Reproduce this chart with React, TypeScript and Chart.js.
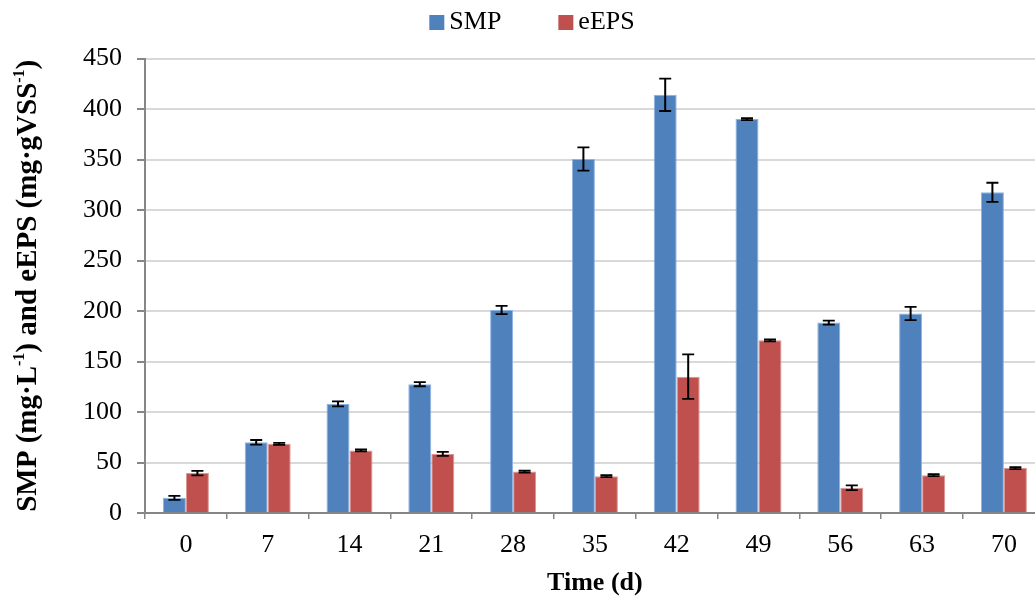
import React, { useEffect, useRef } from "react";
import { Chart, registerables } from "chart.js";

Chart.register(...registerables);

const categories = ["0", "7", "14", "21", "28", "35", "42", "49", "56", "63", "70"];
const smpValues = [15, 70, 108, 127.5, 201, 350.5, 414, 390, 188.5, 197.5, 317.5];
const smpErrors = [2, 2.3, 2.5, 2, 4, 11.5, 16, 1, 2, 6.5, 9.5];
const eepsValues = [39.5, 68.5, 62, 58.5, 41, 36.5, 135, 171, 25, 37.5, 44.5];
const eepsErrors = [2.3, 1, 1, 2, 1, 1, 22, 1, 2.3, 1, 1];
const seriesNames = ["SMP", "eEPS"];
const yMin = 0;
const yMax = 450;
const yStep = 50;
const xTitle = "Time (d)";
// y title as [text, isSuperscript] segments
const yTitleParts: [string, boolean][] = [
  ["SMP (mg·L", false],
  ["-1", true],
  [") and eEPS (mg·gVSS", false],
  ["-1", true],
  [")", false],
];

const FONT = "'Liberation Serif', 'Times New Roman', 'DejaVu Serif', serif";

const errorBarPlugin = {
  id: "errorBars",
  afterDatasetsDraw(chart: any) {
    const ctx = chart.ctx;
    const yScale = chart.scales.y;
    const errs = [smpErrors, eepsErrors];
    ctx.save();
    ctx.strokeStyle = "#000";
    chart.data.datasets.forEach((ds: any, di: number) => {
      const meta = chart.getDatasetMeta(di);
      meta.data.forEach((bar: any, i: number) => {
        const v = ds.data[i];
        const e = errs[di][i];
        const yt = yScale.getPixelForValue(v + e);
        const yb = yScale.getPixelForValue(v - e);
        const x = bar.x;
        ctx.lineWidth = 2;
        ctx.beginPath();
        ctx.moveTo(x, yt);
        ctx.lineTo(x, yb);
        ctx.stroke();
        ctx.lineWidth = 1.8;
        ctx.beginPath();
        ctx.moveTo(x - 6, yt);
        ctx.lineTo(x + 6, yt);
        ctx.moveTo(x - 6, yb);
        ctx.lineTo(x + 6, yb);
        ctx.stroke();
      });
    });
    ctx.restore();
  },
};

const legendPlugin = {
  id: "customLegend",
  afterDraw(chart: any) {
    const ctx = chart.ctx;
    ctx.save();
    ctx.font = `26px ${FONT}`;
    const box = 15;
    const gap = 5;
    const spacing = 57;
    const items = chart.data.datasets.map((d: any) => ({ label: d.label, color: d.backgroundColor }));
    const widths = items.map((it: any) => box + gap + ctx.measureText(it.label).width);
    const total = widths.reduce((a: number, b: number) => a + b, 0) + spacing * (items.length - 1);
    let x = 532 - total / 2;
    const y = 15;
    items.forEach((it: any, i: number) => {
      ctx.fillStyle = it.color;
      ctx.fillRect(x, y, box, box);
      ctx.fillStyle = "#000";
      ctx.textBaseline = "middle";
      ctx.textAlign = "left";
      ctx.fillText(it.label, x + box + gap, y + box / 2 - 0.5);
      x += widths[i] + spacing;
    });
    ctx.restore();
  },
};

const yTitlePlugin = {
  id: "yTitle",
  afterDraw(chart: any) {
    const ctx = chart.ctx;
    const area = chart.chartArea;
    const mainFont = `bold 29px ${FONT}`;
    const supFont = `bold 16px ${FONT}`;
    ctx.save();
    const widths = yTitleParts.map(([t, sup]) => {
      ctx.font = sup ? supFont : mainFont;
      return ctx.measureText(t).width;
    });
    const total = widths.reduce((a, b) => a + b, 0);
    ctx.translate(26, (area.top + area.bottom) / 2);
    ctx.rotate(-Math.PI / 2);
    ctx.fillStyle = "#000";
    ctx.textAlign = "left";
    ctx.textBaseline = "alphabetic";
    let x = -total / 2;
    yTitleParts.forEach(([t, sup], i) => {
      ctx.font = sup ? supFont : mainFont;
      ctx.fillText(t, x, sup ? -2 : 9.5);
      x += widths[i];
    });
    ctx.restore();
  },
};

export default function App() {
  const ref = useRef<HTMLCanvasElement>(null);
  useEffect(() => {
    if (!ref.current) return;
    const chart = new Chart(ref.current, {
      type: "bar",
      data: {
        labels: categories,
        datasets: [
          {
            label: seriesNames[0],
            data: smpValues,
            backgroundColor: "#4f81bd",
            borderColor: "#8db3e2",
            borderWidth: 1,
            barPercentage: 1,
            categoryPercentage: 0.5623,
          },
          {
            label: seriesNames[1],
            data: eepsValues,
            backgroundColor: "#c0504d",
            borderColor: "#d99694",
            borderWidth: 1,
            barPercentage: 1,
            categoryPercentage: 0.5623,
          },
        ],
      },
      options: {
        responsive: false,
        animation: false,
        devicePixelRatio: 1,
        layout: { padding: { left: 4, top: 58.5, right: 5.2, bottom: 0 } },
        plugins: {
          legend: { display: false },
          tooltip: { enabled: false },
        },
        scales: {
          x: {
            offset: true,
            afterFit: (s: any) => {
              s.height = 86;
            },
            grid: {
              offset: true,
              drawOnChartArea: false,
              drawTicks: true,
              tickLength: 6,
              color: "#868686",
              lineWidth: 1.5,
            },
            border: { display: true, color: "#868686", width: 2 },
            ticks: { color: "#000", font: { family: FONT, size: 26 }, padding: 11, maxRotation: 0 },
            title: {
              display: true,
              text: xTitle,
              color: "#000",
              font: { family: FONT, size: 26, weight: "bold" },
              padding: { top: 0, bottom: 0 },
            },
          },
          y: {
            min: yMin,
            max: yMax,
            afterFit: (s: any) => {
              s.width = 141;
            },
            ticks: { stepSize: yStep, color: "#000", font: { family: FONT, size: 26 }, padding: 15 },
            grid: { color: "#d9d9d9", lineWidth: 2, tickLength: 8, tickColor: "#868686" },
            border: { display: true, color: "#868686", width: 2 },
            title: { display: false },
          },
        },
      },
      plugins: [errorBarPlugin, legendPlugin, yTitlePlugin],
    });
    return () => chart.destroy();
  }, []);
  return (
    <div style={{ position: "fixed", left: 0, top: 0, width: 1035, height: 599, overflow: "hidden", background: "#fff" }}>
      <canvas ref={ref} width={1050} height={599} style={{ display: "block" }} />
    </div>
  );
}
